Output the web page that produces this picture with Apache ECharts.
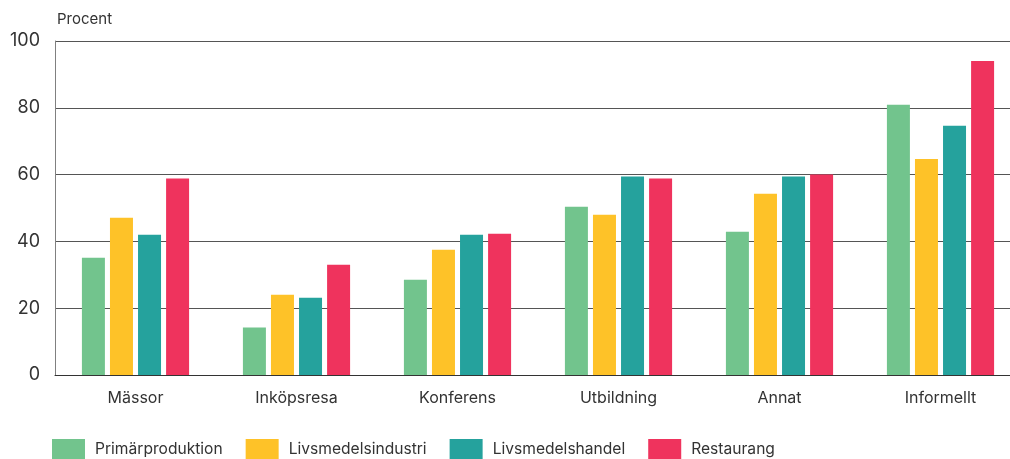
<!DOCTYPE html>
<html>
<head>
<meta charset="utf-8">
<script src="https://cdn.jsdelivr.net/npm/echarts@6/dist/echarts.min.js"></script>
<style>
html,body{margin:0;padding:0;background:#fff;overflow:hidden;}
#chart{width:1022px;height:459px;}
</style>
</head>
<body>
<div id="chart"></div>
<script>
// Andel (procent) per aktivitet och bransch
const categories = ['Mässor', 'Inköpsresa', 'Konferens', 'Utbildning', 'Annat', 'Informellt'];
const seriesNames = ['Primärproduktion', 'Livsmedelsindustri', 'Livsmedelshandel', 'Restaurang'];
const primarproduktion   = [35.1, 14.2, 28.5, 50.4, 42.9, 80.9];
const livsmedelsindustri = [47.1, 24.0, 37.5, 48.0, 54.3, 64.7];
const livsmedelshandel   = [42.0, 23.1, 42.0, 59.4, 59.4, 74.6];
const restaurang         = [58.8, 33.0, 42.3, 58.8, 60.0, 94.0];
const yTicks = [0, 20, 40, 60, 80, 100];

const colors = ['#72c48d', '#fec228', '#25a29d', '#ef335d'];
const values = [primarproduktion, livsmedelsindustri, livsmedelshandel, restaurang];
const FONT = 'Inter, "Liberation Sans", Arial, sans-serif';

const chart = echarts.init(document.getElementById('chart'), null, {renderer: 'canvas'});
chart.setOption({
  animation: false,
  textStyle: {fontFamily: FONT},
  grid: {left: 55, top: 41, width: 966, height: 334, containLabel: false},
  legend: {
    left: 52, top: 439, padding: 0,
    itemWidth: 33, itemHeight: 20, itemGap: 23,
    icon: 'rect',
    textStyle: {fontFamily: FONT, fontSize: 15.6, color: '#333', padding: [0, 0, 0, 5]},
    data: seriesNames
  },
  graphic: [{
    type: 'text', left: 57, top: 12,
    style: {text: 'Procent', fontSize: 15, fontFamily: FONT, fill: '#333'}
  }],
  xAxis: {
    type: 'category',
    data: categories,
    axisLine: {show: true, lineStyle: {color: '#333', width: 1}},
    axisTick: {show: false},
    axisLabel: {fontFamily: FONT, fontSize: 16, color: '#333', margin: 15}
  },
  yAxis: {
    type: 'value',
    min: yTicks[0], max: yTicks[yTicks.length - 1], interval: 20,
    axisLine: {show: true, lineStyle: {color: '#808080', width: 1}},
    axisTick: {show: false},
    axisLabel: {fontFamily: FONT, fontSize: 18, color: '#333', margin: 15},
    splitLine: {show: true, lineStyle: {color: '#555', width: 1}}
  },
  series: seriesNames.map((name, i) => ({
    name: name,
    type: 'bar',
    data: values[i],
    barWidth: 23,
    barGap: '22%',
    itemStyle: {color: colors[i]}
  }))
});
</script>
</body>
</html>
